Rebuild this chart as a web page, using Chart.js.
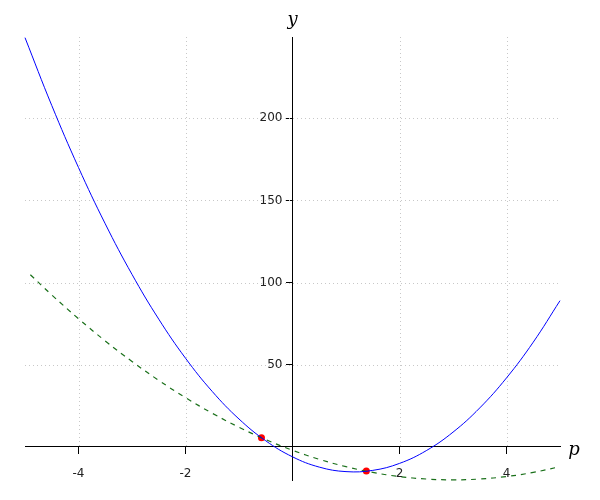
<!DOCTYPE html>
<html>
<head>
<meta charset="utf-8">
<script src="https://cdn.jsdelivr.net/npm/chart.js"></script>
<style>
  html, body { margin: 0; padding: 0; background: #fff; }
  #wrap { width: 600px; height: 500px; }
</style>
</head>
<body>
<div id="wrap"><canvas id="plot" width="600" height="500"></canvas></div>
<script>
// values
var pValues = [-5, -4.5, -4, -3.5, -3, -2.5, -2, -1.5, -1, -0.5, 0, 0.5, 1, 1.5, 2, 2.5, 3, 3.5, 4, 4.5, 5];
var blueY   = [249, 207.75, 170, 135.75, 105, 77.75, 54, 33.75, 17, 3.75, -6, -12.25, -15, -14.25, -10, -2.25, 9, 23.75, 42, 63.75, 89];
var greenP  = [-4.9, -4.5, -4, -3.5, -3, -2.5, -2, -1.5, -1, -0.5, 0, 0.5, 1, 1.5, 2, 2.5, 3, 3.5, 4, 4.5, 5];
var greenY  = [104.8, 92.5, 78, 64.5, 52, 40.5, 30, 20.5, 12, 4.5, -2, -7.5, -12, -15.5, -18, -19.5, -20, -19.5, -18, -15.5, -12];
var dotP    = [-0.58, 1.38];
var dotY    = [5.6, -14.7];
var xTicks  = [-4, -2, 2, 4];
var yTicks  = [50, 100, 150, 200];

function pts(xs, ys) {
    return xs.map(function (x, i) { return { x: x, y: ys[i] }; });
}

var font = { family: '"DejaVu Sans", sans-serif', size: 12 };

// dotted grid (only above the p axis), y tick labels and the axis names
var decor = {
    id: 'decor',
    beforeDatasetsDraw: function (chart) {
        var c = chart.ctx, xs = chart.scales.x, ys = chart.scales.y, a = chart.chartArea;
        var y0 = ys.getPixelForValue(0);
        c.save();
        c.strokeStyle = '#c8c8c8';
        c.lineWidth = 1;
        c.setLineDash([1, 3]);
        xTicks.forEach(function (v) {
            var px = Math.round(xs.getPixelForValue(v)) + 0.5;
            c.beginPath(); c.moveTo(px, a.top); c.lineTo(px, y0); c.stroke();
        });
        yTicks.forEach(function (v) {
            var py = Math.round(ys.getPixelForValue(v)) + 0.5;
            c.beginPath(); c.moveTo(a.left, py); c.lineTo(a.right, py); c.stroke();
        });
        c.restore();
    },
    afterDraw: function (chart) {
        var c = chart.ctx, xs = chart.scales.x, ys = chart.scales.y, a = chart.chartArea;
        var x0 = xs.getPixelForValue(0);
        c.save();
        c.fillStyle = '#222';
        c.font = font.size + 'px ' + font.family;
        c.textAlign = 'right';
        c.textBaseline = 'middle';
        yTicks.forEach(function (v) {
            c.fillText(String(v), x0 - 10, ys.getPixelForValue(v));
        });
        c.fillStyle = '#000';
        c.font = 'italic 18px "DejaVu Serif", "Liberation Serif", serif';
        c.textAlign = 'center';
        c.fillText('y', x0, 20);
        c.fillText('p', a.right + 14, ys.getPixelForValue(0) + 3);
        c.restore();
    }
};

new Chart(document.getElementById('plot').getContext('2d'), {
    type: 'line',
    data: {
        datasets: [
            {
                data: pts(pValues, blueY),
                borderColor: '#0000ff',
                borderWidth: 1,
                pointRadius: 0,
                tension: 0.4,
                fill: false,
                clip: false
            },
            {
                data: pts(greenP, greenY),
                borderColor: '#1a701a',
                borderWidth: 1.2,
                borderDash: [5, 5],
                pointRadius: 0,
                tension: 0.4,
                fill: false,
                clip: false
            },
            {
                data: pts(dotP, dotY),
                showLine: false,
                pointRadius: 3.5,
                pointBackgroundColor: '#ff0000',
                pointBorderColor: '#ff0000',
                pointBorderWidth: 0,
                clip: false
            }
        ]
    },
    options: {
        responsive: false,
        animation: false,
        events: [],
        layout: { padding: { left: 25, right: 40, top: 37, bottom: 20 } },
        plugins: { legend: { display: false }, tooltip: { enabled: false } },
        scales: {
            x: {
                type: 'linear',
                position: { y: 0 },
                min: -5,
                max: 5,
                afterBuildTicks: function (s) { s.ticks = xTicks.map(function (v) { return { value: v }; }); },
                grid: { drawOnChartArea: false, tickLength: 7, color: '#000' },
                border: { color: '#000', width: 1 },
                ticks: { font: font, color: '#222', padding: 13, maxRotation: 0 }
            },
            y: {
                type: 'linear',
                position: { x: 0 },
                min: -20.1,
                max: 249.4,
                afterBuildTicks: function (s) { s.ticks = yTicks.map(function (v) { return { value: v }; }); },
                grid: { drawOnChartArea: false, tickLength: 6, color: '#000' },
                border: { color: '#000', width: 1 },
                ticks: { display: false }
            }
        }
    },
    plugins: [decor]
});
</script>
</body>
</html>
